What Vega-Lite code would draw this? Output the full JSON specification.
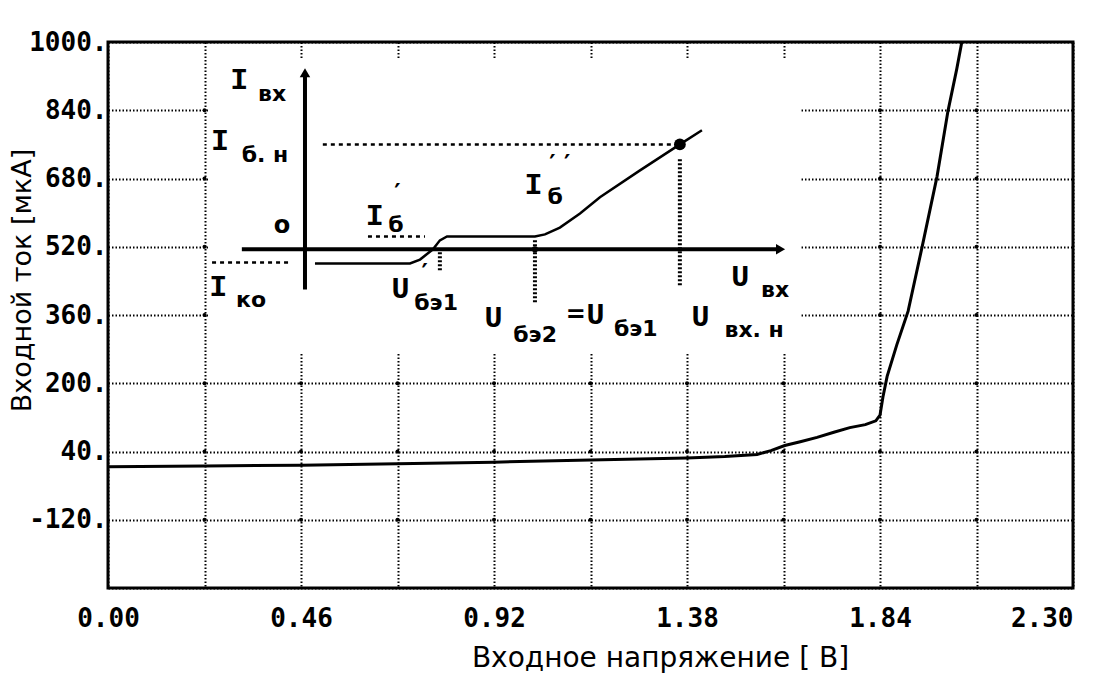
{
  "$schema": "https://vega.github.io/schema/vega-lite/v6.json",
  "width": 965,
  "height": 546,
  "autosize": {"type": "none"},
  "padding": {"left": 108, "top": 42, "right": 22, "bottom": 97},
  "background": "white",
  "config": {"view": {"stroke": "black", "strokeWidth": 3}},
  "datasets": {
    "main": [
      {"x": 0, "y": 4}, {"x": 0.23, "y": 6}, {"x": 0.46, "y": 8}, {"x": 0.69, "y": 11},
      {"x": 0.92, "y": 15}, {"x": 1.15, "y": 20}, {"x": 1.38, "y": 25}, {"x": 1.47, "y": 28},
      {"x": 1.547, "y": 33}, {"x": 1.58, "y": 42}, {"x": 1.613, "y": 54}, {"x": 1.65, "y": 63},
      {"x": 1.69, "y": 73}, {"x": 1.73, "y": 85}, {"x": 1.768, "y": 96}, {"x": 1.805, "y": 103},
      {"x": 1.83, "y": 112}, {"x": 1.84, "y": 125}, {"x": 1.847, "y": 168}, {"x": 1.857, "y": 216},
      {"x": 1.88, "y": 290}, {"x": 1.907, "y": 369}, {"x": 1.94, "y": 518}, {"x": 1.976, "y": 685},
      {"x": 2.002, "y": 838}, {"x": 2.023, "y": 937}, {"x": 2.035, "y": 1000}
    ],
    "gridpts": [
      {"x": 0.23, "y": -120}, {"x": 0.23, "y": 40}, {"x": 0.23, "y": 200}, {"x": 0.23, "y": 360}, {"x": 0.23, "y": 520}, {"x": 0.23, "y": 680}, {"x": 0.23, "y": 840},
      {"x": 0.46, "y": -120}, {"x": 0.46, "y": 40}, {"x": 0.46, "y": 200},
      {"x": 0.69, "y": -120}, {"x": 0.69, "y": 40}, {"x": 0.69, "y": 200},
      {"x": 0.92, "y": -120}, {"x": 0.92, "y": 40}, {"x": 0.92, "y": 200},
      {"x": 1.15, "y": -120}, {"x": 1.15, "y": 40}, {"x": 1.15, "y": 200},
      {"x": 1.38, "y": -120}, {"x": 1.38, "y": 40}, {"x": 1.38, "y": 200},
      {"x": 1.61, "y": -120}, {"x": 1.61, "y": 40}, {"x": 1.61, "y": 200},
      {"x": 1.84, "y": -120}, {"x": 1.84, "y": 40}, {"x": 1.84, "y": 200}, {"x": 1.84, "y": 360}, {"x": 1.84, "y": 520}, {"x": 1.84, "y": 680}, {"x": 1.84, "y": 840},
      {"x": 2.07, "y": -120}, {"x": 2.07, "y": 40}, {"x": 2.07, "y": 200}, {"x": 2.07, "y": 360}, {"x": 2.07, "y": 520}, {"x": 2.07, "y": 680}, {"x": 2.07, "y": 840}
    ],
    "box": [{"x": 0.243, "x2": 1.652, "y": 272, "y2": 959}],
    "insetAxes": [
      {"x": 0.4695, "x2": 0.4695, "y": 420, "y2": 928},
      {"x": 0.319, "x2": 1.6, "y": 514, "y2": 514}
    ],
    "arrowUp": [{"x": 0.4695, "y": 928}],
    "arrowRight": [{"x": 1.603, "y": 514}],
    "insetCurve": [
      {"x": 0.4933, "y": 481}, {"x": 0.7197, "y": 481}, {"x": 0.7436, "y": 490}, {"x": 0.7745, "y": 514},
      {"x": 0.791, "y": 535}, {"x": 0.808, "y": 544}, {"x": 1.0176, "y": 544}, {"x": 1.0415, "y": 549},
      {"x": 1.077, "y": 565}, {"x": 1.125, "y": 598}, {"x": 1.1725, "y": 636}, {"x": 1.268, "y": 699},
      {"x": 1.363, "y": 760}, {"x": 1.4156, "y": 793}
    ],
    "dashed": [
      {"x": 0.512, "x2": 1.35, "y": 760, "y2": 760},
      {"x": 0.6196, "x2": 0.7555, "y": 544, "y2": 544},
      {"x": 0.248, "x2": 0.434, "y": 483, "y2": 483}
    ],
    "dotted": [
      {"x": 1.363, "x2": 1.363, "y": 725, "y2": 425},
      {"x": 1.0176, "x2": 1.0176, "y": 535, "y2": 389},
      {"x": 0.791, "x2": 0.791, "y": 507, "y2": 460}
    ],
    "bigDot": [{"x": 1.363, "y": 760}],
    "smallDot": [{"x": 1.0176, "y": 514}],
    "letters": [
      {"x": 0.313, "y": 912, "t": "I"}, {"x": 0.267, "y": 767, "t": "I"}, {"x": 0.636, "y": 593, "t": "I"},
      {"x": 0.263, "y": 425, "t": "I"}, {"x": 0.697, "y": 420, "t": "U"}, {"x": 0.919, "y": 354, "t": "U"},
      {"x": 1.162, "y": 361, "t": "U"}, {"x": 1.014, "y": 664, "t": "I"}, {"x": 1.507, "y": 448, "t": "U"},
      {"x": 1.412, "y": 356, "t": "U"}
    ],
    "subs": [
      {"x": 0.391, "y": 877, "t": "вх"}, {"x": 0.374, "y": 734, "t": "б. н"}, {"x": 0.686, "y": 570, "t": "б"},
      {"x": 0.341, "y": 394, "t": "ко"}, {"x": 0.782, "y": 387, "t": "бэ1"}, {"x": 1.018, "y": 312, "t": "бэ2"},
      {"x": 1.258, "y": 328, "t": "бэ1"}, {"x": 1.066, "y": 636, "t": "б"}, {"x": 1.59, "y": 418, "t": "вх"},
      {"x": 1.54, "y": 326, "t": "вх. н"}
    ],
    "marks": [
      {"x": 0.415, "y": 568, "t": "o"}, {"x": 0.69, "y": 643, "t": "′"}, {"x": 0.755, "y": 455, "t": "′"},
      {"x": 1.115, "y": 359, "t": "="}, {"x": 1.077, "y": 711, "t": "′ ′"}
    ]
  },
  "encoding": {
    "x": {
      "field": "x", "type": "quantitative",
      "scale": {"domain": [0, 2.3], "nice": false, "zero": false},
      "axis": {
        "values": [0, 0.23, 0.46, 0.69, 0.92, 1.15, 1.38, 1.61, 1.84, 2.07, 2.3],
        "labelExpr": "indexof(['0.00','0.46','0.92','1.38','1.84','2.30'], format(datum.value,'.2f')) >= 0 ? format(datum.value,'.2f') : ''",
        "grid": true, "gridColor": "black", "gridDash": [1.5, 2], "gridWidth": 2, "gridOpacity": 1,
        "ticks": false, "domain": false,
        "labelFont": "DejaVu Sans Mono", "labelFontWeight": "bold", "labelFontSize": 26, "labelColor": "black",
        "labelPadding": 17, "labelFlush": false, "labelOverlap": false,
        "labelAlign": {"expr": "datum.value > 2.2 ? 'right' : 'center'"},
        "title": "Входное напряжение [ В]",
        "titleFont": "DejaVu Sans", "titleFontSize": 28, "titleFontWeight": "normal", "titleColor": "black",
        "titleX": 552, "titleY": 70, "titleBaseline": "middle", "titleAlign": "center"
      }
    },
    "y": {
      "field": "y", "type": "quantitative",
      "scale": {"domain": [-280, 1000], "nice": false, "zero": false},
      "axis": {
        "values": [-280, -120, 40, 200, 360, 520, 680, 840, 1000],
        "labelExpr": "datum.value == -280 ? '' : datum.value + '.'",
        "grid": true, "gridColor": "black", "gridDash": [1.5, 2], "gridWidth": 2, "gridOpacity": 1,
        "ticks": false, "domain": false,
        "labelFont": "DejaVu Sans Mono", "labelFontWeight": "bold", "labelFontSize": 26, "labelColor": "black",
        "labelPadding": 1, "labelOverlap": false,
        "title": "Входной ток [мкА]",
        "titleFont": "DejaVu Sans", "titleFontSize": 27, "titleFontWeight": "normal", "titleColor": "black",
        "titleX": -86, "titleY": 238, "titleBaseline": "middle", "titleAlign": "center", "titleAngle": -90
      }
    }
  },
  "layer": [
    {"data": {"name": "gridpts"}, "mark": {"type": "point", "filled": true, "color": "black", "size": 16, "opacity": 1}},
    {"data": {"name": "box"}, "mark": {"type": "rect", "fill": "white"}, "encoding": {"x2": {"field": "x2"}, "y2": {"field": "y2"}}},
    {"data": {"name": "main"}, "mark": {"type": "line", "color": "black", "strokeWidth": 3, "clip": true}},
    {"data": {"name": "insetAxes"}, "mark": {"type": "rule", "color": "black", "strokeWidth": 4}, "encoding": {"x2": {"field": "x2"}, "y2": {"field": "y2"}}},
    {"data": {"name": "arrowUp"}, "mark": {"type": "point", "shape": "triangle-up", "filled": true, "color": "black", "size": 110, "opacity": 1}},
    {"data": {"name": "arrowRight"}, "mark": {"type": "point", "shape": "triangle-right", "filled": true, "color": "black", "size": 110, "opacity": 1}},
    {"data": {"name": "insetCurve"}, "mark": {"type": "line", "color": "black", "strokeWidth": 2.5}},
    {"data": {"name": "dashed"}, "mark": {"type": "rule", "color": "black", "strokeWidth": 2.5, "strokeDash": [4, 4]}, "encoding": {"x2": {"field": "x2"}, "y2": {"field": "y2"}}},
    {"data": {"name": "dotted"}, "mark": {"type": "rule", "color": "black", "strokeWidth": 4, "strokeDash": [2, 2]}, "encoding": {"x2": {"field": "x2"}, "y2": {"field": "y2"}}},
    {"data": {"name": "bigDot"}, "mark": {"type": "point", "filled": true, "color": "black", "size": 140, "opacity": 1}},
    {"data": {"name": "smallDot"}, "mark": {"type": "point", "filled": true, "color": "black", "size": 40, "opacity": 1}},
    {"data": {"name": "letters"}, "mark": {"type": "text", "font": "Liberation Mono", "fontWeight": "bold", "fontSize": 30, "color": "black", "align": "center", "baseline": "middle"}, "encoding": {"text": {"field": "t"}}},
    {"data": {"name": "subs"}, "mark": {"type": "text", "font": "DejaVu Sans", "fontWeight": "bold", "fontSize": 22, "color": "black", "align": "center", "baseline": "middle"}, "encoding": {"text": {"field": "t"}}},
    {"data": {"name": "marks"}, "mark": {"type": "text", "font": "DejaVu Sans", "fontWeight": "bold", "fontSize": 24, "color": "black", "align": "center", "baseline": "middle"}, "encoding": {"text": {"field": "t"}}}
  ]
}
